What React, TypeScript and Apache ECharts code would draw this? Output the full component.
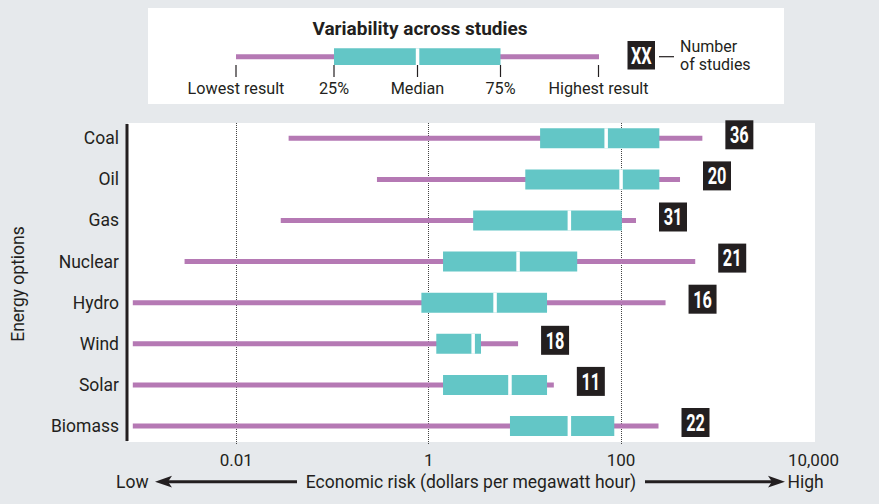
import React, { useEffect, useRef } from "react";
import * as echarts from "echarts";

const categories = ["Coal", "Oil", "Gas", "Nuclear", "Hydro", "Wind", "Solar", "Biomass"];
const lowest = [0.035, 0.29, 0.029, 0.0029, 0.00084, 0.00084, 0.00084, 0.00084];
const q25 = [14.4, 10.1, 2.9, 1.41, 0.84, 1.2, 1.41, 7.0];
const median = [70, 100, 29, 8.5, 4.9, 2.9, 7.0, 29];
const q75 = [250, 250, 102, 35, 17, 3.5, 17, 85];
const highest = [700, 410, 143, 590, 290, 8.5, 20, 245];
const studies = [36, 20, 31, 21, 16, 18, 11, 22];
const tickValues = [0.01, 1, 100, 10000];
const tickLabels = ["0.01", "1", "100", "10,000"];

const PURPLE = "#b579b4";
const TEAL = "#63c6c6";
const INK = "#231f20";
const BG = "#e6e9ec";
const FONT = "Roboto, 'Noto Sans', sans-serif";

export default function App() {
  const ref = useRef<HTMLDivElement>(null);
  useEffect(() => {
    if (!ref.current) return;
    const chart = echarts.init(ref.current, undefined, { renderer: "svg" });
    const data = categories.map((_, i) => [
      i,
      Math.log10(lowest[i]),
      Math.log10(q25[i]),
      Math.log10(median[i]),
      Math.log10(q75[i]),
      Math.log10(highest[i]),
      studies[i],
    ]);
    const tickLog = tickValues.map((v) => Math.log10(v));
    const labelFor = (v: number) => {
      let best = 0;
      tickLog.forEach((t, k) => {
        if (Math.abs(t - v) < Math.abs(tickLog[best] - v)) best = k;
      });
      return tickLabels[best];
    };

    const legendTicks = [236, 334, 417.5, 500.5, 598.5];
    const legendLabels = ["Lowest result", "25%", "Median", "75%", "Highest result"];

    const option: any = {
      animation: false,
      backgroundColor: BG,
      textStyle: { fontFamily: FONT },
      grid: { left: 127, right: 64, top: 123, bottom: 59 },
      xAxis: {
        type: "value",
        min: -3.136,
        max: 4.016,
        axisLine: { show: false },
        axisTick: { show: false },
        splitLine: { show: false },
        axisLabel: {
          customValues: tickLog,
          formatter: (v: number) => labelFor(v),
          color: INK,
          fontSize: 17,
          fontFamily: FONT,
          margin: 6,
        },
        name: "Economic risk (dollars per megawatt hour)",
        nameLocation: "middle",
        nameGap: 28,
        nameTextStyle: { color: INK, fontSize: 17.5, fontFamily: FONT },
      },
      yAxis: {
        type: "value",
        inverse: true,
        min: -0.372,
        max: 7.462,
        axisLine: { show: false },
        axisTick: { show: false },
        splitLine: { show: false },
        axisLabel: {
          customValues: categories.map((_, i) => i),
          formatter: (v: number) => categories[Math.round(v)] ?? "",
          color: INK,
          fontSize: 17.5,
          fontFamily: FONT,
          margin: 8,
        },
        name: "Energy options",
        nameLocation: "middle",
        nameRotate: 90,
        nameGap: 100,
        nameTextStyle: { color: INK, fontSize: 17.5, fontFamily: FONT },
      },
      graphic: [
        { type: "rect", z: -10, shape: { x: 128, y: 123, width: 687, height: 319 }, style: { fill: "#ffffff" } },
        { type: "rect", z: 50, shape: { x: 125.5, y: 124, width: 3, height: 317 }, style: { fill: INK } },
        // legend panel
        { type: "rect", z: -10, shape: { x: 148, y: 8, width: 636, height: 96 }, style: { fill: "#ffffff" } },
        {
          type: "text", x: 420, y: 28.5,
          style: { text: "Variability across studies", font: `bold 19px ${FONT}`, fill: INK, align: "center", verticalAlign: "middle" },
        },
        { type: "rect", shape: { x: 236, y: 54.2, width: 363, height: 5 }, style: { fill: PURPLE } },
        { type: "rect", shape: { x: 334, y: 48.3, width: 166.5, height: 16.7 }, style: { fill: TEAL } },
        { type: "rect", shape: { x: 415.8, y: 48.3, width: 3.5, height: 16.7 }, style: { fill: "#ffffff" } },
        ...legendTicks.map((x) => ({
          type: "line", shape: { x1: x, y1: 65, x2: x, y2: 77 }, style: { stroke: INK, lineWidth: 1.2 },
        })),
        ...legendTicks.map((x, k) => ({
          type: "text", x, y: 88.5,
          style: { text: legendLabels[k], font: `16.2px ${FONT}`, fill: INK, align: "center", verticalAlign: "middle" },
        })),
        { type: "rect", shape: { x: 627.5, y: 41, width: 27.5, height: 28.5 }, style: { fill: INK } },
        {
          type: "text", x: 641.3, y: 55.5, scaleX: 0.68,
          style: { text: "XX", x: 0, y: 0, font: `bold 24px ${FONT}`, fill: "#ffffff", align: "center", verticalAlign: "middle" },
        },
        { type: "line", shape: { x1: 659, y1: 56.7, x2: 674, y2: 56.7 }, style: { stroke: INK, lineWidth: 1.2 } },
        { type: "text", x: 680, y: 46.7, style: { text: "Number", font: `16px ${FONT}`, fill: INK, align: "left", verticalAlign: "middle" } },
        { type: "text", x: 680, y: 64.3, style: { text: "of studies", font: `16px ${FONT}`, fill: INK, align: "left", verticalAlign: "middle" } },
        // bottom arrows
        { type: "text", x: 116, y: 481.7, style: { text: "Low", font: `17.5px ${FONT}`, fill: INK, align: "left", verticalAlign: "middle" } },
        { type: "line", shape: { x1: 166, y1: 481.7, x2: 297, y2: 481.7 }, style: { stroke: INK, lineWidth: 3 } },
        { type: "polygon", shape: { points: [[155, 481.7], [172, 475.8], [168, 481.7], [172, 487.6]] }, style: { fill: INK } },
        { type: "line", shape: { x1: 645, y1: 481.7, x2: 774, y2: 481.7 }, style: { stroke: INK, lineWidth: 3 } },
        { type: "polygon", shape: { points: [[785, 481.7], [768, 475.8], [772, 481.7], [768, 487.6]] }, style: { fill: INK } },
        { type: "text", x: 787.5, y: 481.7, style: { text: "High", font: `17.5px ${FONT}`, fill: INK, align: "left", verticalAlign: "middle" } },
      ],
      series: [
        {
          type: "custom",
          clip: false,
          encode: { x: [1, 2, 3, 4, 5], y: 0 },
          data,
          renderItem: (params: any, api: any) => {
            const row = api.value(0);
            const pLow = api.coord([api.value(1), row]);
            const pQ1 = api.coord([api.value(2), row]);
            const pMed = api.coord([api.value(3), row]);
            const pQ3 = api.coord([api.value(4), row]);
            const pHigh = api.coord([api.value(5), row]);
            const cy = pLow[1];
            const n = api.value(6);
            const bx = pHigh[0] + 23;
            return {
              type: "group",
              children: [
                { type: "rect", shape: { x: pLow[0], y: cy - 2.5, width: pHigh[0] - pLow[0], height: 5 }, style: { fill: PURPLE } },
                { type: "rect", shape: { x: pQ1[0], y: cy - 10, width: pQ3[0] - pQ1[0], height: 20 }, style: { fill: TEAL } },
                { type: "rect", shape: { x: pMed[0] - 1.75, y: cy - 10, width: 3.5, height: 20 }, style: { fill: "#ffffff" } },
                { type: "rect", shape: { x: bx, y: cy - 18, width: 28, height: 29 }, style: { fill: INK } },
                {
                  type: "text", x: bx + 14, y: cy - 3.3, scaleX: 0.68,
                  style: { text: String(n), x: 0, y: 0, font: `bold 24px ${FONT}`, fill: "#ffffff", align: "center", verticalAlign: "middle" },
                },
              ],
            };
          },
          markLine: {
            silent: true,
            symbol: ["none", "none"],
            label: { show: false },
            lineStyle: { type: "dotted", color: "#444", width: 1 },
            data: tickLog.slice(0, 3).map((v) => ({ xAxis: v })),
          },
          z: 5,
        },
      ],
    };
    chart.setOption(option);
    return () => chart.dispose();
  }, []);
  return (
    <div
      ref={ref}
      style={{ position: "fixed", left: 0, top: 0, width: 879, height: 504, background: BG }}
    />
  );
}
